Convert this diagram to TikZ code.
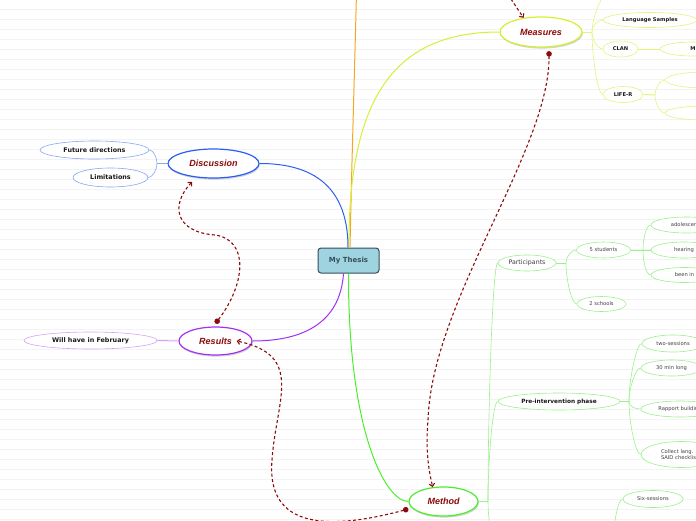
\documentclass[tikz,border=0pt]{standalone}
\usepackage{fontspec}
\setmainfont{DejaVu Sans}
\newfontfamily\titlefont{Liberation Sans}
\usetikzlibrary{shapes.geometric,shadows,arrows.meta}

\definecolor{relred}{HTML}{8B0A0A}
\definecolor{thesisfill}{HTML}{9ED3E0}
\definecolor{thesisline}{HTML}{3A4C5A}
\definecolor{measline}{HTML}{D4F034}
\definecolor{measleaf}{HTML}{E0F57C}
\definecolor{discline}{HTML}{2A5EF5}
\definecolor{discleaf}{HTML}{86A6F8}
\definecolor{resline}{HTML}{A232F0}
\definecolor{resleaf}{HTML}{D6A2F8}
\definecolor{methline}{HTML}{4CEE2C}
\definecolor{methleaf}{HTML}{9CF08C}
\definecolor{orangeline}{HTML}{F5A623}
\definecolor{ruled}{HTML}{F3F3F3}

\begin{document}
\begin{tikzpicture}[x = 1pt, y = -1pt,
    thesis/.style = {rectangle, rounded corners = 3pt, draw = thesisline, fill = thesisfill, line width = 1pt,
                     minimum width = 61pt, minimum height = 25pt, text = thesisline,
                     font = \fontsize{7}{8}\selectfont\bfseries},
    topic/.style = {ellipse, draw, line width = 1.2pt, fill = white, inner sep = 0pt, minimum height = 29pt,
                    text = relred, font = \titlefont\fontsize{9}{10}\selectfont\bfseries\itshape,
                    drop shadow = {shadow xshift = 0.8pt, shadow yshift = -1.6pt, opacity = 0.35}},
    leaf/.style = {ellipse, draw, line width = 0.6pt, fill = white, inner sep = 0pt, minimum height = 18pt,
                   text = black!90, font = \fontsize{6.4}{7}\selectfont\bfseries},
    leafsmall/.style = {leaf, minimum height = 16pt, font = \fontsize{5.2}{6}\selectfont\bfseries},
    twig/.style = {ellipse, draw, line width = 0.6pt, fill = white, inner sep = 0pt, minimum height = 16pt,
                   text = black!75, font = \fontsize{5.2}{6}\selectfont},
    stem/.style = {line width = 1pt},
    twigline/.style = {line width = 0.6pt},
    forkup/.style = {out = 90, in = 180, in distance = 5pt},
    forkdown/.style = {out = -90, in = 180, in distance = 5pt},
    rel/.style = {draw = relred, line width = 1.1pt, dash pattern = on 3pt off 2.4pt},
    relarrow/.style = {rel, -{Straight Barb[length = 2.8pt, width = 5.5pt]}},
    reldot/.style = {rel, {Circle[length = 5.5pt, width = 5.5pt]}-{Straight Barb[length = 2.8pt, width = 5.5pt]}}]

    \useasboundingbox (0, 0) rectangle (696, 520);
    \clip (0, 0) rectangle (696, 520);

    % ruled paper
    \foreach \k in {0, ..., 51}
        \draw[ruled, line width = 0.5pt] (0, {9.5 + 10*\k}) -- (696, {9.5 + 10*\k});

    % main topics
    \node [thesis] (thesis) at (348.5, 260.5) {My Thesis};
    \node [topic, draw = measline, minimum width = 82pt, minimum height = 30pt] (measures) at (541, 32) {Measures};
    \node [topic, draw = discline, minimum width = 91pt] (discussion) at (213.5, 163.5) {Discussion};
    \node [topic, draw = resline, minimum width = 73pt, minimum height = 28pt] (results) at (215.5, 341) {Results};
    \node [topic, draw = methline, minimum width = 69pt] (method) at (443.5, 501.5) {Method};

    % measures
    \node [leafsmall, draw = measleaf, minimum width = 94pt, minimum height = 15pt] (langs) at (650, 20) {Language Samples};
    \node [leafsmall, draw = measleaf, minimum width = 35pt] (clan) at (620.5, 49) {CLAN};
    \node [leafsmall, draw = measleaf, minimum width = 66pt, minimum height = 14pt] (clanm) at (693, 49) {M};
    \node [leafsmall, draw = measleaf, minimum width = 40pt] (lifer) at (623, 94.5) {LIFE-R};
    \node [leafsmall, draw = measleaf, minimum width = 80pt] (lifea) at (705, 80) {};
    \node [leafsmall, draw = measleaf, minimum width = 80pt, minimum height = 14pt] (lifeb) at (705, 113) {};

    % discussion and results
    \node [leaf, draw = discleaf, minimum width = 109pt] (future) at (94.5, 150) {Future directions};
    \node [leaf, draw = discleaf, minimum width = 75pt, minimum height = 19pt] (limits) at (110.5, 177.5) {Limitations};
    \node [leaf, draw = resleaf, minimum width = 133pt, minimum height = 17pt] (february) at (90.5, 340.5) {Will have in February};

    % method
    \node [twig, draw = methleaf, minimum width = 58pt, font = \fontsize{6.3}{7}\selectfont] (participants) at (527, 263) {Participants};
    \node [twig, draw = methleaf, minimum width = 54pt] (students) at (603.5, 250) {5 students};
    \node [twig, draw = methleaf, minimum width = 49pt, minimum height = 15pt] (schools) at (601.5, 304) {2 schools};
    \node [twig, draw = methleaf, minimum width = 71pt] (adolescents) at (686.5, 225) {adolescents};
    \node [twig, draw = methleaf, minimum width = 66pt] (hearing) at (684, 250) {hearing};
    \node [twig, draw = methleaf, minimum width = 67pt, minimum height = 15pt] (beenin) at (684.5, 275) {been in};
    \node [leaf, draw = methleaf, minimum width = 122pt, minimum height = 17pt,
           font = \fontsize{5.8}{7}\selectfont\bfseries] (preint) at (559, 401.5) {Pre-intervention phase};
    \node [twig, draw = methleaf, minimum width = 62pt, minimum height = 17pt] (twosess) at (673, 343.5) {two-sessions};
    \node [twig, draw = methleaf, minimum width = 61pt] (thirtymin) at (671.5, 368) {30 min long};
    \node [twig, draw = methleaf, minimum width = 78pt] (rapport) at (680, 409) {Rapport building};
    \node [twig, draw = methleaf, minimum width = 80pt, minimum height = 26pt, align = left, text width = 40pt,
           font = \fontsize{5.2}{6}\selectfont] (collect) at (681, 454.5) {Collect lang.\\SAID checklist};
    \node [twig, draw = methleaf, minimum width = 60pt, minimum height = 17pt] (sixsess) at (653, 499) {Six-sessions};

    % hubs and loose ends
    \coordinate (orangeoff) at (357, -30);
    \coordinate (measin) at (505, -10);
    \coordinate (meashub) at (592, 32);
    \coordinate (measoff) at (612, -14);
    \coordinate (liferhub) at (655, 95);
    \coordinate (dischub) at (157, 163.5);
    \coordinate (methhub) at (488, 501.5);
    \coordinate (methoff) at (500, 560);
    \coordinate (parthub) at (566, 263);
    \coordinate (studhub) at (643, 250);
    \coordinate (prehub) at (629, 401.5);
    \coordinate (sixhub) at (613, 545);

    % branches from the centre
    \draw[orangeline, stem] ([xshift = 1.5pt]thesis.north) .. controls (352, 150) and (355, 60) .. (orangeoff);
    \draw[measline, stem] ([xshift = 0.5pt]thesis.north) .. controls (348, 90) and (400, 32) .. (measures.west);
    \draw[discline, stem] ([xshift = -0.5pt]thesis.north) .. controls (348, 180) and (305, 163.5) .. (discussion.east);
    \draw[resline, stem] ([xshift = -5pt]thesis.south) .. controls (340, 325) and (300, 341) .. (results.east);
    \draw[methline, stem] (thesis.south) .. controls (348, 430) and (385, 501.5) .. (method.west);

    % measures forks
    \draw[measleaf, stem] (measures.east) -- (meashub);
    \draw[measleaf, twigline] (meashub) to[forkup] (measoff);
    \draw[measleaf, twigline] (meashub) to[forkup] (langs.west);
    \draw[measleaf, twigline] (meashub) to[forkdown] (clan.west);
    \draw[measleaf, twigline] (meashub) to[forkdown] (lifer.west);
    \draw[measleaf, twigline] (clan.east) -- (clanm.west);
    \draw[measleaf, stem] (lifer.east) -- (liferhub);
    \draw[measleaf, twigline] (liferhub) to[forkup] (lifea.west);
    \draw[measleaf, twigline] (liferhub) to[forkdown] (lifeb.west);

    % discussion and results forks
    \draw[discleaf, stem] (discussion.west) -- (dischub);
    \draw[discleaf, twigline] (dischub) to[out = 90, in = 0, in distance = 4pt] (future.east);
    \draw[discleaf, twigline] (dischub) to[out = -90, in = 0, in distance = 4pt] (limits.east);
    \draw[resleaf, stem] (results.west) -- (february.east);

    % method forks
    \draw[methleaf, stem] (method.east) -- (methhub);
    \draw[methleaf, twigline] (methhub) to[forkup] (participants.west);
    \draw[methleaf, twigline] (methhub) to[forkup] (preint.west);
    \draw[methleaf, twigline] (methhub) to[forkdown] (methoff);
    \draw[methleaf, stem] (participants.east) -- (parthub);
    \draw[methleaf, twigline] (parthub) to[forkup] (students.west);
    \draw[methleaf, twigline] (parthub) to[forkdown] (schools.west);
    \draw[methleaf, stem] (students.east) -- (studhub);
    \draw[methleaf, twigline] (studhub) to[forkup] (adolescents.west);
    \draw[methleaf, twigline] (studhub) -- (hearing.west);
    \draw[methleaf, twigline] (studhub) to[forkdown] (beenin.west);
    \draw[methleaf, stem] (preint.east) -- (prehub);
    \foreach \n in {twosess, thirtymin}
        \draw[methleaf, twigline] (prehub) to[forkup] (\n.west);
    \foreach \n in {rapport, collect}
        \draw[methleaf, twigline] (prehub) to[forkdown] (\n.west);
    \draw[methleaf, twigline] (sixhub) to[forkup] (sixsess.west);

    % relationships
    \draw[relarrow] (measin) -- (measures.141);
    \draw[reldot] ([xshift = 8pt, yshift = -3.5pt]measures.south) .. controls (550, 150) and (432, 300) .. (428, 420)
        .. controls (425, 455) and (430, 475) .. (method.127);
    \draw[reldot] ([yshift = 3pt]results.north) .. controls (245, 285) and (250, 240) .. (215, 235)
        .. controls (175, 232) and (170, 205) .. ([yshift = -5pt]discussion.212);
    \draw[reldot] ([yshift = -7.5pt]method.west) .. controls (330, 530) and (266, 530) .. (272, 460)
        .. controls (276, 400) and (305, 355) .. ([xshift = -16pt]results.east);
\end{tikzpicture}
\end{document}
